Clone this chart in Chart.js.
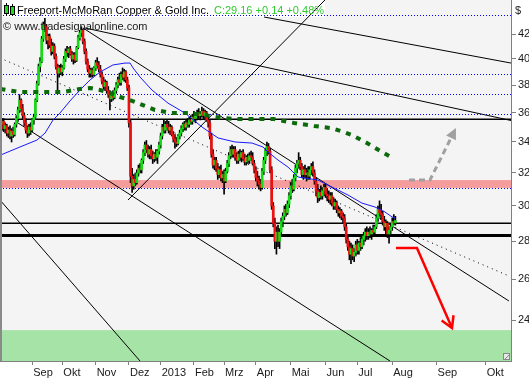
<!DOCTYPE html>
<html><head><meta charset="utf-8">
<script src="https://cdn.jsdelivr.net/npm/chart.js@4"></script>
<style>html,body{margin:0;padding:0;background:#fff;overflow:hidden}</style>
</head><body>
<canvas id="c" width="529" height="379" style="display:block;width:529px;height:379px"></canvas>
<script>
// ---------- DATA ----------
const opens = [34.0,35.2,35.4,34.9,35.1,34.6,34.8,34.4,34.7,34.5,
35.2,35.6,36.2,36.9,36.3,35.8,35.3,34.8,34.6,35.0,
34.8,35.5,35.7,36.9,38.1,39.4,39.8,41.6,42.8,42.6,
41.5,41.8,41.1,40.6,41.0,40.2,39.4,38.9,39.3,39.0,
39.3,40.0,40.6,40.5,40.8,40.4,40.0,40.3,39.9,40.9,
41.7,42.1,42.3,41.4,40.6,39.8,39.2,38.9,39.1,38.8,
39.3,39.7,39.5,39.2,38.8,38.3,37.9,38.2,37.6,37.3,
37.0,37.3,37.1,37.6,38.0,38.4,38.2,38.8,38.6,39.0,
38.4,37.8,35.3,31.8,31.2,31.6,31.4,32.0,32.3,32.2,
32.8,33.3,33.8,33.5,33.2,33.5,33.1,32.9,33.2,33.0,
33.4,33.8,34.4,35.0,34.8,35.2,35.0,34.8,35.0,34.5,
34.2,34.0,33.9,34.4,34.6,34.9,35.2,35.0,35.3,35.2,
35.5,35.4,35.7,35.6,35.8,36.0,35.8,35.9,36.1,35.8,
36.0,35.5,35.3,34.4,33.2,32.5,32.8,32.3,31.9,32.2,
31.7,31.9,31.5,32.1,32.6,33.1,33.5,33.2,33.5,33.0,
32.8,33.2,33.0,33.3,32.9,32.7,33.0,32.8,33.1,33.0,
32.6,32.2,31.7,31.5,31.3,31.1,32.1,32.8,33.4,33.7,
33.4,32.2,30.0,29.0,28.0,28.5,28.0,28.5,29.1,29.4,
29.8,29.6,30.1,30.6,31.2,31.0,31.7,32.3,32.6,32.8,
32.4,31.9,32.2,31.9,32.0,31.8,32.2,32.4,32.0,31.5,
30.9,30.5,30.8,30.6,30.9,31.1,30.7,30.6,30.4,30.6,
30.2,30.0,30.2,29.8,29.6,29.7,29.4,29.3,28.8,28.1,
27.7,27.3,27.6,27.2,27.4,27.8,27.5,27.9,27.7,28.1,
28.3,28.5,28.3,28.5,28.4,28.6,28.5,28.8,29.3,29.8,
29.6,29.5,29.1,28.8,29.0,28.4,28.6,28.8,29.1,29.02];
const highs = [35.4,35.6,35.6,35.3,35.2,35.0,35.1,34.9,35.0,35.3,
35.8,36.4,37.3,37.0,36.6,36.0,35.6,35.1,35.2,35.3,
35.6,35.9,37.0,38.3,39.6,40.1,41.8,43.0,43.3,42.8,
42.0,42.0,41.6,41.3,41.2,40.4,39.6,39.5,39.6,39.5,
40.2,40.8,41.0,40.9,41.0,40.6,40.5,40.5,41.0,41.9,
42.3,42.6,42.4,41.6,40.8,40.0,39.5,39.3,39.3,39.4,
39.9,40.1,39.8,39.5,39.0,38.6,38.4,38.3,37.9,37.6,
37.5,37.6,37.8,38.2,38.6,38.9,39.0,39.3,39.2,39.1,
38.6,38.0,35.5,32.3,31.9,32.0,32.2,32.5,32.6,32.9,
33.5,34.0,34.1,33.8,33.7,33.8,33.4,33.3,33.5,33.5,
34.0,34.6,35.2,35.5,35.4,35.5,35.4,35.2,35.1,34.7,
34.5,34.3,34.5,34.8,35.1,35.3,35.4,35.5,35.6,35.7,
35.8,35.9,36.1,36.0,36.2,36.3,36.1,36.4,36.3,36.2,
36.1,35.8,35.5,34.6,33.5,33.0,33.0,32.6,32.4,32.5,
32.1,32.2,32.3,32.8,33.3,33.7,33.8,33.7,33.7,33.3,
33.4,33.5,33.4,33.5,33.2,33.1,33.2,33.3,33.4,33.3,
32.8,32.4,32.1,31.8,31.6,32.3,33.0,33.6,34.0,33.9,
33.6,32.4,30.2,29.3,28.8,28.9,28.7,29.3,29.6,30.0,
30.1,30.3,30.8,31.4,31.6,31.9,32.5,32.8,33.3,33.0,
32.6,32.4,32.5,32.3,32.4,32.4,32.6,32.7,32.2,31.7,
31.3,31.0,31.2,31.1,31.3,31.3,31.0,30.9,30.8,30.8,
30.5,30.4,30.3,30.0,29.9,29.8,29.6,29.5,29.0,28.3,
28.0,27.9,27.8,27.6,28.0,28.1,28.0,28.2,28.3,28.5,
28.7,28.8,28.7,28.8,28.7,28.9,28.9,29.5,30.0,30.3,
30.1,29.7,29.4,29.2,29.1,28.8,29.0,29.3,29.5,29.4];
const lows = [33.6,34.8,34.7,34.6,34.4,34.3,34.2,34.0,34.3,34.4,
35.0,35.4,36.0,36.1,35.6,35.1,34.6,34.3,34.4,34.5,
34.7,35.2,35.6,36.8,38.0,39.0,39.7,41.4,42.2,41.2,
40.8,40.9,40.3,40.4,40.0,39.2,37.4,38.6,38.8,38.7,
39.2,39.8,40.2,40.1,40.3,39.8,39.6,39.7,39.8,40.8,
41.5,41.8,41.2,40.4,39.6,39.0,38.6,38.6,38.6,38.7,
39.1,39.3,39.0,38.6,38.1,37.7,37.6,37.4,37.1,36.2,
36.8,36.9,37.0,37.4,37.8,38.0,38.0,38.4,38.3,38.2,
37.6,35.0,31.4,30.8,31.0,31.2,31.3,31.8,32.0,32.0,
32.6,33.1,33.3,33.0,32.9,32.9,32.6,32.7,32.8,32.6,
33.2,33.6,34.2,34.6,34.6,34.8,34.6,34.5,34.4,34.0,
33.6,33.7,33.8,34.2,34.4,34.7,34.8,34.8,35.0,35.0,
35.2,35.2,35.4,35.3,35.5,35.6,35.5,35.7,35.6,35.5,
35.4,35.0,34.2,33.0,32.3,32.2,32.1,31.6,31.7,31.5,
31.4,30.7,31.4,32.0,32.4,32.9,33.0,33.0,32.8,32.6,
32.6,32.8,32.7,32.8,32.5,32.5,32.6,32.6,32.8,32.5,
32.0,31.5,31.2,31.0,30.9,31.0,31.9,32.6,33.1,33.2,
32.0,29.8,28.8,27.6,27.3,27.7,27.6,28.3,28.8,29.2,
29.4,29.5,29.9,30.4,30.8,30.9,31.5,32.0,32.3,32.2,
31.7,31.6,31.7,31.5,31.6,31.6,31.9,31.8,31.3,30.6,
30.2,30.3,30.4,30.4,30.6,30.5,30.3,30.2,30.1,30.0,
29.8,29.8,29.6,29.4,29.3,29.2,29.0,28.6,27.9,27.5,
27.0,26.8,27.0,26.9,27.2,27.3,27.3,27.5,27.6,27.8,
28.0,28.1,28.1,28.2,28.1,28.3,28.3,28.7,29.1,29.4,
29.2,28.9,28.6,28.4,28.2,27.9,28.3,28.6,28.9,28.9];
const closes = [35.2,35.4,34.9,35.1,34.6,34.8,34.4,34.7,34.5,35.2,
35.6,36.2,36.9,36.3,35.8,35.3,34.8,34.6,35.0,34.8,
35.5,35.7,36.9,38.1,39.4,39.8,41.6,42.8,42.6,41.5,
41.8,41.1,40.6,41.0,40.2,39.4,38.9,39.3,39.0,39.3,
40.0,40.6,40.5,40.8,40.4,40.0,40.3,39.9,40.9,41.7,
42.1,42.3,41.4,40.6,39.8,39.2,38.9,39.1,38.8,39.3,
39.7,39.5,39.2,38.8,38.3,37.9,38.2,37.6,37.3,37.0,
37.3,37.1,37.6,38.0,38.4,38.2,38.8,38.6,39.0,38.4,
37.8,35.3,31.8,31.2,31.6,31.4,32.0,32.3,32.2,32.8,
33.3,33.8,33.5,33.2,33.5,33.1,32.9,33.2,33.0,33.4,
33.8,34.4,35.0,34.8,35.2,35.0,34.8,35.0,34.5,34.2,
34.0,33.9,34.4,34.6,34.9,35.2,35.0,35.3,35.2,35.5,
35.4,35.7,35.6,35.8,36.0,35.8,35.9,36.1,35.8,36.0,
35.5,35.3,34.4,33.2,32.5,32.8,32.3,31.9,32.2,31.7,
31.9,31.5,32.1,32.6,33.1,33.5,33.2,33.5,33.0,32.8,
33.2,33.0,33.3,32.9,32.7,33.0,32.8,33.1,33.0,32.6,
32.2,31.7,31.5,31.3,31.1,32.1,32.8,33.4,33.7,33.4,
32.2,30.0,29.0,28.0,28.5,28.0,28.5,29.1,29.4,29.8,
29.6,30.1,30.6,31.2,31.0,31.7,32.3,32.6,32.8,32.4,
31.9,32.2,31.9,32.0,31.8,32.2,32.4,32.0,31.5,30.9,
30.5,30.8,30.6,30.9,31.1,30.7,30.6,30.4,30.6,30.2,
30.0,30.2,29.8,29.6,29.7,29.4,29.3,28.8,28.1,27.7,
27.3,27.6,27.2,27.4,27.8,27.5,27.9,27.7,28.1,28.3,
28.5,28.3,28.5,28.4,28.6,28.5,28.8,29.3,29.8,29.6,
29.5,29.1,28.8,29.0,28.4,28.6,28.8,29.1,29.02,29.16];

// month ticks (trading-day slot index) and labels
const monthTicks  = [20,39,60,81,101,122,141,161,183,205,225,247,275,306];
const monthLabels = ['Sep','Okt','Nov','Dez','2013','Feb','Mrz','Apr','Mai','Jun','Jul','Aug','Sep','Okt'];
const priceTicks  = [24,26,28,30,32,34,36,38,40,42];

// moving averages [slot, price]
const maFast = [[0,33.14],[12.3,33.67],[23,34.13],[28.1,34.6],[33.1,35.49],[37.5,35.98],[43.8,36.84],[50.1,37.64],[56.4,38.38],[62.8,38.99],[70.9,39.53],[78.5,39.68],[81.7,39.68],[83.6,39.3],[88,38.61],[95.5,37.64],[105.6,36.69],[116.3,35.98],[127.1,35.01],[137.2,34.27],[147.9,34.0],[158.6,33.93],[165.5,33.67],[168.7,33.34],[175,32.82],[181.3,32.37],[187.6,31.75],[200.2,31.56],[209,31.13],[219.1,30.65],[227.9,30.17],[236.1,29.94],[242.4,29.65],[246.9,29.36],[249,29.3]];
const maSlow = [[0,37.72],[12.3,37.49],[26.8,37.49],[39.4,37.49],[50.1,37.72],[56.4,37.79],[62.8,37.64],[69.1,37.42],[75.4,37.13],[81.7,36.91],[86.7,36.69],[97.4,36.2],[108.1,35.98],[118.2,35.98],[129,35.84],[139.7,35.63],[149.8,35.56],[160.5,35.56],[172.5,35.56],[185.1,35.29],[197.7,35.08],[208.4,34.94],[216.6,34.67],[221.6,34.47],[231.1,33.93],[240.6,33.34],[246.2,33.02]];

// trend lines [slot, price] endpoints
const trend1 = [[52.0,42.5],[320.6,24.91]];
const trend2 = [[53.3,42.5],[321.9,35.46]];
const trend3 = [[166.2,43.42],[321.9,39.68]];
const trend4 = [[80.4,30.35],[204.6,44.89]];
const trend5 = [[9.2,35.42],[245.6,22.15]];
const trend6 = [[-0.3,30.35],[88.0,22.15]];
const trendDotted = [[-0.3,40.07],[320.6,26.16]];

// projection arrows
const upArrow   = [[257.6,31.56],[270.8,31.56],[287.2,34.94]];
const downArrow = [[249.4,27.63],[262.6,27.63],[284.7,23.63]];

// horizontal levels and zones
const dottedLevels = [43.59,38.84,37.35,35.91,31.08];
const solidLevels  = [35.55,29.0];
const thickLevels  = [28.36];
const resistanceZone = [31.08,31.56];
const supportZone    = [21.5,23.53];

const titleText = 'Freeport-McMoRan Copper & Gold Inc.';
const quoteText = 'C:29.16 +0.14 +0.48%';
const copyText  = '\u00A9 www.tradesignalonline.com';

// ---------- CHART ----------
const FONT = '"Liberation Sans", Arial, sans-serif';
Chart.defaults.font.family = FONT;
Chart.defaults.font.size = 11;

const idx = opens.map((_, i) => i);
const wickData = idx.map(i => ({x: i, y: [lows[i], highs[i]]}));
const bodyData = idx.map(i => ({x: i, y: [opens[i], closes[i]]}));
const bodyColors = idx.map(i => closes[i] >= opens[i] ? '#14dc14' : '#ec1010');
const pts = a => a.map(p => ({x: p[0], y: p[1]}));

function lineDs(data, color, width, dash, order) {
  return {type: 'line', data: pts(data), borderColor: color, borderWidth: width,
    borderDash: dash, pointRadius: 0, tension: 0, fill: false, order: order, clip: 0};
}
const noPad = s => { s.paddingTop = 0; s.paddingBottom = 0; s.paddingLeft = 0; s.paddingRight = 0; };

const decorPlugin = {
  id: 'decor',
  beforeDraw(chart) {
    const {ctx, chartArea: a} = chart;
    const y = chart.scales.y;
    ctx.save();
    ctx.fillStyle = '#ffffff';
    ctx.fillRect(0, 0, chart.width, chart.height);
    ctx.fillStyle = '#f4f4f4';
    ctx.fillRect(a.left, a.top, a.right - a.left, a.bottom - a.top);
    const zone = (z, col) => {
      const y1 = y.getPixelForValue(z[1]);
      const y2 = Math.min(a.bottom, y.getPixelForValue(z[0]));
      ctx.fillStyle = col;
      ctx.fillRect(a.left, y1, a.right - a.left, y2 - y1);
    };
    zone(resistanceZone, '#f59c9c');
    zone(supportZone, '#a6e3a6');
    ctx.fillStyle = '#ffffff';
    ctx.fillRect(0, 0, 325, 17);
    ctx.restore();
  },
  beforeDatasetsDraw(chart) {
    const {ctx, chartArea: a} = chart;
    const y = chart.scales.y;
    ctx.save();
    ctx.beginPath(); ctx.rect(a.left, a.top, a.right - a.left, a.bottom - a.top); ctx.clip();
    const hline = (v, w) => {
      let py = y.getPixelForValue(v);
      if (w % 2 === 1) py = Math.round(py) + 0.5;
      ctx.lineWidth = w;
      ctx.beginPath(); ctx.moveTo(a.left, py); ctx.lineTo(a.right, py); ctx.stroke();
    };
    ctx.strokeStyle = '#0000ff';
    ctx.setLineDash([1, 2]);
    dottedLevels.forEach(v => hline(v, 1));
    ctx.setLineDash([]);
    ctx.strokeStyle = '#000';
    solidLevels.forEach(v => hline(v, 1.5));
    thickLevels.forEach(v => hline(v, 3));
    ctx.restore();
  },
  afterDatasetsDraw(chart) {
    const {ctx} = chart;
    const {x, y} = chart.scales;
    const head = (arr, color, filled, len, half, lw) => {
      const n = arr.length;
      const x0 = x.getPixelForValue(arr[n - 2][0]), y0 = y.getPixelForValue(arr[n - 2][1]);
      const x1 = x.getPixelForValue(arr[n - 1][0]), y1 = y.getPixelForValue(arr[n - 1][1]);
      const ang = Math.atan2(y1 - y0, x1 - x0);
      const bx = x1 - len * Math.cos(ang), by = y1 - len * Math.sin(ang);
      const nx = -Math.sin(ang) * half, ny = Math.cos(ang) * half;
      ctx.save();
      ctx.setLineDash([]);
      ctx.beginPath();
      ctx.moveTo(bx + nx, by + ny); ctx.lineTo(x1, y1); ctx.lineTo(bx - nx, by - ny);
      if (filled) { ctx.closePath(); ctx.fillStyle = color; ctx.fill(); }
      else { ctx.strokeStyle = color; ctx.lineWidth = lw; ctx.stroke(); }
      ctx.restore();
    };
    head(upArrow, '#a0a0a0', true, 11, 5.5, 0);
    head(downArrow, '#ff0000', false, 11, 6.5, 2.5);
  },
  afterDraw(chart) {
    const {ctx, chartArea: a} = chart;
    ctx.save();
    ctx.strokeStyle = '#8a8a8a'; ctx.lineWidth = 2;
    ctx.beginPath(); ctx.moveTo(1, 0); ctx.lineTo(1, a.bottom); ctx.stroke();
    const candle = (cx, top, bot, btop, bbot) => {
      ctx.strokeStyle = '#000'; ctx.lineWidth = 1;
      ctx.beginPath(); ctx.moveTo(cx + 0.5, top); ctx.lineTo(cx + 0.5, bot); ctx.stroke();
      ctx.fillStyle = '#18e018';
      ctx.fillRect(cx - 1, btop, 3, bbot - btop);
      ctx.strokeRect(cx - 1.5, btop - 0.5, 4, bbot - btop + 1);
    };
    candle(6, 3, 16, 6, 13);
    candle(12, 4, 16, 7, 14);
    ctx.font = '11px ' + FONT;
    ctx.textBaseline = 'alphabetic';
    ctx.fillStyle = '#000';
    ctx.fillText(titleText, 17, 14);
    const w = ctx.measureText(titleText).width;
    ctx.fillStyle = '#2fcc2f';
    ctx.fillText(quoteText, 17 + w + 5, 14);
    ctx.fillStyle = '#1a1a1a';
    ctx.fillText(copyText, 3, 30);
    ctx.fillStyle = '#222';
    ctx.fillText('$', 515, 14);
    ctx.fillStyle = '#e8e8e8'; ctx.fillRect(a.right - 8, a.bottom - 8, 7, 7);
    ctx.strokeStyle = '#888'; ctx.lineWidth = 1;
    ctx.strokeRect(a.right - 7.5, a.bottom - 7.5, 6, 6);
    ctx.beginPath(); ctx.moveTo(a.right - 6, a.bottom - 2); ctx.lineTo(a.right - 2, a.bottom - 6); ctx.stroke();
    ctx.restore();
  }
};

new Chart(document.getElementById('c'), {
  type: 'bar',
  data: {
    datasets: [
      lineDs(upArrow, '#a0a0a0', 3, [6, 4], 0),
      lineDs(downArrow, '#ff0000', 2.5, [], 0),
      lineDs(maSlow, '#0b6a0b', 4, [5, 6], 1),
      lineDs(maFast, '#1a1aff', 1, [], 2),
      {type: 'bar', data: bodyData, backgroundColor: bodyColors, barThickness: 2,
        grouped: false, borderWidth: 0, borderSkipped: false, order: 3},
      {type: 'bar', data: wickData, backgroundColor: '#000', barThickness: 1,
        grouped: false, borderWidth: 0, borderSkipped: false, order: 4},
      lineDs(trend1, '#000', 1, [], 5),
      lineDs(trend2, '#000', 1, [], 5),
      lineDs(trend3, '#000', 1, [], 5),
      lineDs(trend4, '#000', 1, [], 5),
      lineDs(trend5, '#000', 1, [], 5),
      lineDs(trend6, '#000', 1, [], 5),
      lineDs(trendDotted, '#000', 1, [1, 4], 5)
    ]
  },
  options: {
    responsive: false,
    animation: false,
    events: [],
    layout: {padding: 0},
    plugins: {legend: {display: false}, tooltip: {enabled: false}, title: {display: false}},
    scales: {
      x: {
        type: 'linear', min: -0.3, max: 321.9, offset: false,
        grid: {display: true, drawOnChartArea: false, drawTicks: true, tickLength: 4, color: '#808080', offset: false},
        border: {display: true, color: '#808080'},
        afterBuildTicks: s => { s.ticks = monthTicks.map(v => ({value: v})); },
        ticks: {autoSkip: false, maxRotation: 0, minRotation: 0, align: 'start', labelOffset: 1, padding: 1,
          color: '#1a1a1a', font: {size: 11}, callback: (v, i) => monthLabels[i]},
        afterFit: s => { s.height = 18; noPad(s); }
      },
      y: {
        type: 'logarithmic', position: 'right', min: 22.15, max: 44.89,
        grid: {display: true, drawOnChartArea: false, drawTicks: true, tickLength: 5, color: '#808080'},
        border: {display: true, color: '#808080'},
        afterBuildTicks: s => { s.ticks = priceTicks.map(v => ({value: v})); },
        ticks: {autoSkip: false, padding: 2, color: '#1a1a1a', font: {size: 11}, callback: v => String(v)},
        afterFit: s => { s.width = 18; noPad(s); }
      }
    }
  },
  plugins: [decorPlugin]
});
</script>
</body></html>
